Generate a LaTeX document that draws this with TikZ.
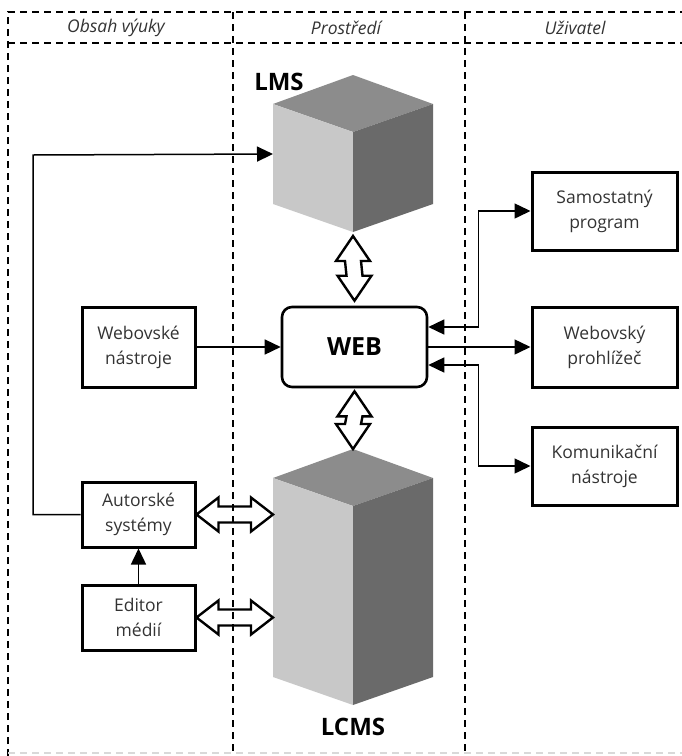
\documentclass[tikz,border=0pt]{standalone}
\usepackage{fontspec}
\setmainfont{Open Sans}
\usetikzlibrary{arrows.meta,calc}

\definecolor{textgray}{HTML}{333333}
\definecolor{cubetop}{HTML}{8C8C8C}
\definecolor{cubeleft}{HTML}{C8C8C8}
\definecolor{cuberight}{HTML}{6A6A6A}

% vertical double arrow: upper tip #1, lower tip #2
\newcommand\vdblarrow[2]{%
  \path[dblarr] let \p1=#1, \p2=#2 in
    (\x1,\y1) -- (\x1+17pt,\y1-25pt) -- (\x1+8pt,\y1-25pt) --
    (\x2+8pt,\y2+25pt) -- (\x2+17pt,\y2+25pt) -- (\x2,\y2) --
    (\x2-17pt,\y2+25pt) -- (\x2-8pt,\y2+25pt) --
    (\x1-8pt,\y1-25pt) -- (\x1-17pt,\y1-25pt) -- cycle;}
% horizontal double arrow: left tip #1, right tip #2
\newcommand\hdblarrow[2]{%
  \path[dblarr] let \p1=#1, \p2=#2 in
    (\x1,\y1) -- (\x1+22pt,\y1+17pt) -- (\x1+22pt,\y1+8pt) --
    (\x2-22pt,\y2+8pt) -- (\x2-22pt,\y2+17pt) -- (\x2,\y2) --
    (\x2-22pt,\y2-17pt) -- (\x2-22pt,\y2-8pt) --
    (\x1+22pt,\y1-8pt) -- (\x1+22pt,\y1-17pt) -- cycle;}
% isometric block: name prefix #1, top vertex #2, front edge height #3
\newcommand\isoblock[3]{%
  \coordinate (#1T) at #2;
  \coordinate (#1TL) at ($(#1T)+(-80,29)$);
  \coordinate (#1TR) at ($(#1T)+(80,29)$);
  \coordinate (#1F) at ($(#1T)+(0,57)$);
  \coordinate (#1BL) at ($(#1TL)+(0,#3)$);
  \coordinate (#1BR) at ($(#1TR)+(0,#3)$);
  \coordinate (#1BM) at ($(#1F)+(0,#3)$);
  \fill[cubetop] (#1T) -- (#1TR) -- (#1F) -- (#1TL) -- cycle;
  \fill[cubeleft] (#1TL) -- (#1F) -- (#1BM) -- (#1BL) -- cycle;
  \fill[cuberight] (#1F) -- (#1TR) -- (#1BR) -- (#1BM) -- cycle;}

\begin{document}
\begin{tikzpicture}[x=1pt,y=-1pt,
  lane/.style={line width=1.2pt, dash pattern=on 7pt off 5pt},
  hdr/.style={font=\itshape\fontsize{17.5}{20}\selectfont, text=textgray},
  tag/.style={font=\bfseries\fontsize{24}{24}\selectfont},
  box/.style={draw, line width=3pt, align=center, inner sep=0pt,
    text=textgray, font=\fontsize{17.5}{25}\selectfont},
  lbox/.style={box, minimum width=113pt, minimum height=#1},
  rbox/.style={box, minimum width=145pt, minimum height=#1},
  webbox/.style={draw, rounded corners=10pt, line width=2.6pt,
    minimum width=145pt, minimum height=80pt,
    font=\bfseries\fontsize{25}{25}\selectfont},
  conn/.style={line width=1.5pt, -{Triangle[length=16pt,width=15pt]}},
  conntwo/.style={line width=1.5pt,
    {Triangle[length=16pt,width=15pt]}-{Triangle[length=16pt,width=15pt]}},
  dblarr/.style={draw, line width=2.4pt, fill=white, line join=miter}]

\useasboundingbox (0,0) rectangle (682,756);

% blocks
\isoblock{lms}{(353,75)}{100}
\isoblock{lcms}{(353,449)}{199}
\node[tag] (lmslabel) at (279,82) {LMS};
\node[tag] (lcmslabel) at (353,727) {LCMS};

% boxes
\node[lbox=80pt] (webtools) at (138.5,347) {Webovské\\nástroje};
\node[lbox=65pt] (autor) at (138.5,514.5) {Autorské\\systémy};
\node[lbox=65pt] (editor) at (138.5,617.5) {Editor\\médií};
\node[webbox] (web) at (354.5,347) {WEB};
\node[rbox=78pt] (samo) at (604.5,211) {Samostatný\\program};
\node[rbox=80pt] (prohl) at (604.5,347) {Webovský\\prohlížeč};
\node[rbox=78pt] (komun) at (604.5,466) {Komunikační\\nástroje};

% connectors
\coordinate (lmsin) at ($(lmsTL)+(0,50)$);
\coordinate (loop) at (33,155);
\draw[conn] (autor.west) -| (loop) -- (lmsin);
\draw[conn] (webtools.east) -- (web.west);
\draw[conn] (editor.north) -- (autor.south);
\draw[conn] (web.east) -- (prohl.west);
\draw[conntwo] ([yshift=20pt]web.east) -| ($(samo.west)+(-52,0)$) -- (samo.west);
\draw[conntwo] ([yshift=-18pt]web.east) -| ($(komun.west)+(-52,0)$) -- (komun.west);

% double arrows
\vdblarrow{($(lmsBM)+(0,4)$)}{($(web.north)+(0,-5)$)}
\vdblarrow{($(web.south)+(0,3)$)}{($(lcmsT)+(0,0)$)}
\hdblarrow{(autor.east)}{(autor.east -| lcmsTL)}
\hdblarrow{(editor.east)}{(editor.east -| lcmsTL)}

% lanes
\draw[lane] (8,756) -- (8,12) -- (682,12);
\draw[lane] (8,43) -- (682,43);
\draw[lane] (233,12) -- (233,756);
\draw[lane] (465,12) -- (465,756);
\draw[lane, black!15] (8,753) -- (682,753);
\node[hdr] (h1) at (116,28) {Obsah výuky};
\node[hdr] (h2) at (346,28) {Prostředí};
\node[hdr] (h3) at (575,28) {Uživatel};
\end{tikzpicture}
\end{document}
